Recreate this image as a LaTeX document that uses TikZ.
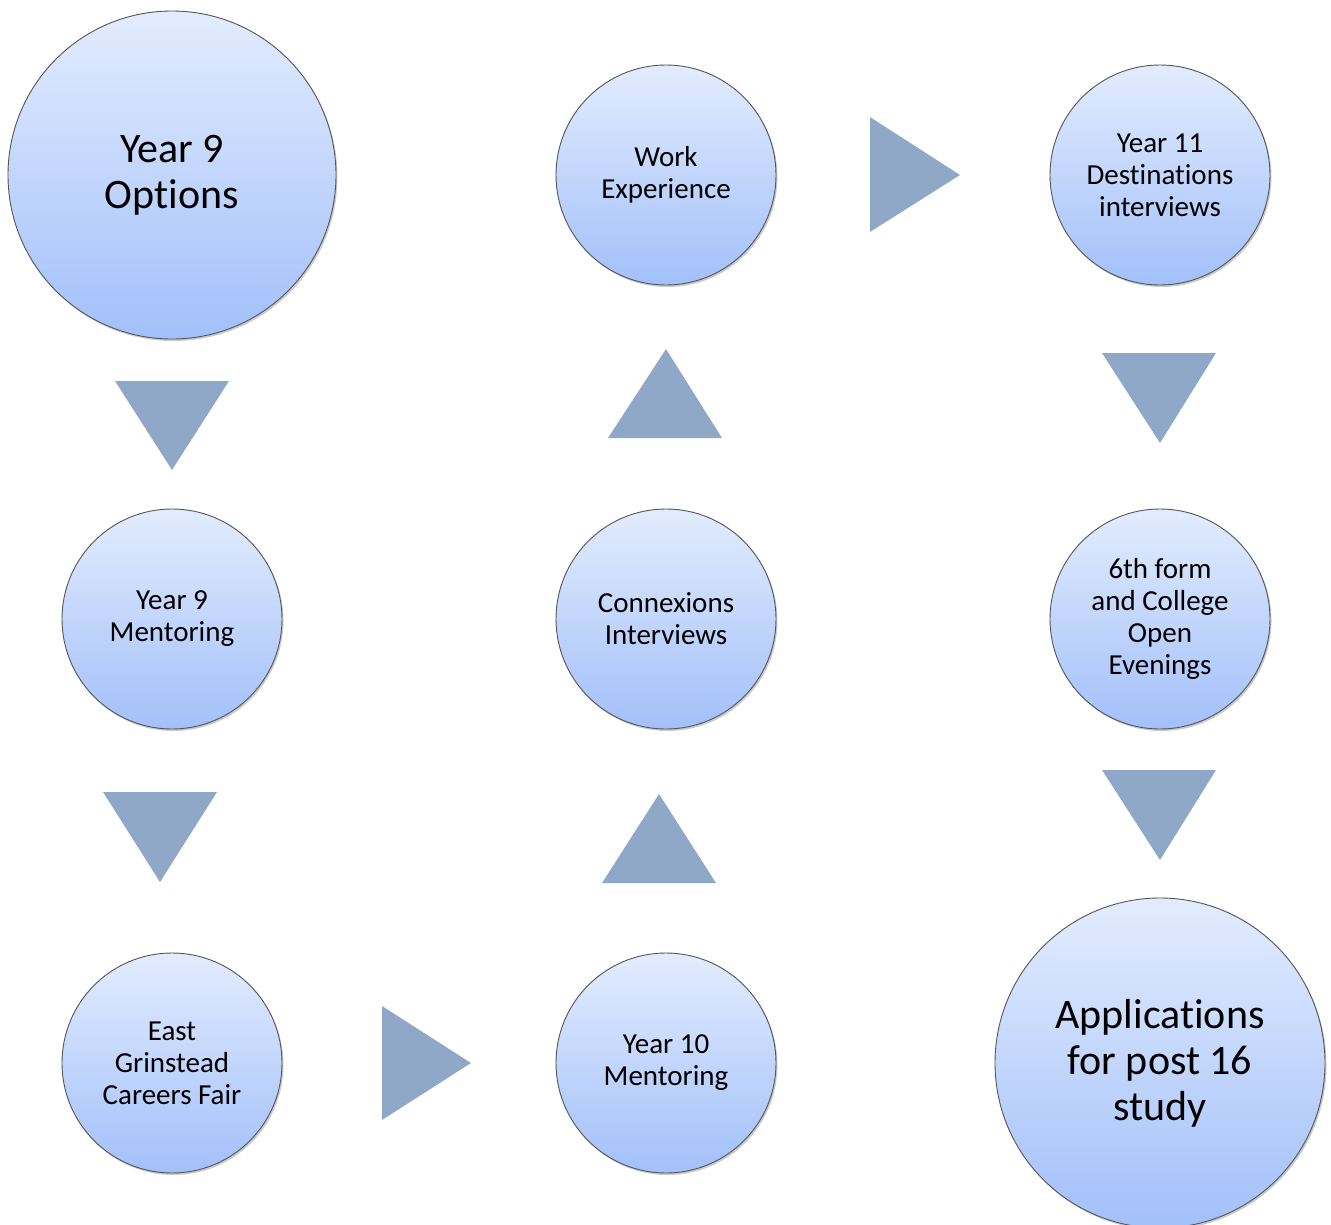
\documentclass[tikz,border=0pt]{standalone}
\usepackage{fontspec}
\setmainfont{Carlito}[Ligatures={NoCommon}]
\usetikzlibrary{shadows}
\definecolor{tri}{HTML}{8FA8C8}
\definecolor{ctop}{HTML}{E3ECFE}
\definecolor{cbot}{HTML}{A2C0FA}
\definecolor{cline}{HTML}{555555}
\tikzset{
  bubble/.style={circle, draw=cline, line width=0.9pt, top color=ctop, bottom color=cbot,
    minimum size=220pt, inner sep=0pt, align=center, font=\fontsize{29}{32}\selectfont,
    drop shadow={shadow xshift=1.5pt, shadow yshift=-2pt, opacity=0.35, fill=black!60}},
  bigbubble/.style={bubble, minimum size=328pt, font=\fontsize{42}{46}\selectfont},
  arrowtri/.style={fill=tri, draw=none}
}
\begin{document}
\begin{tikzpicture}[x=1pt,y=-1pt]
\useasboundingbox (0,0) rectangle (1331,1224);
\node[bigbubble] (opt) at (172,175) {Year 9\\Options};
\node[bubble] (work) at (666,175) {Work\\Experience};
\node[bubble] (y11) at (1160,175) {Year 11\\Destinations\\interviews};
\node[bubble] (ment9) at (172,619) {Year 9\\Mentoring};
\node[bubble] (conn) at (666,619) {Connexions\\Interviews};
\node[bubble] (sixth) at (1160,619) {6th form\\and College\\Open\\Evenings};
\node[bubble] (fair) at (172,1063) {East\\Grinstead\\Careers Fair};
\node[bubble] (ment10) at (666,1063) {Year 10\\Mentoring};
\node[bigbubble, minimum size=330pt] (apps) at (1160,1063) {Applications\\for post 16\\study};
% arrows
\fill[arrowtri] (870,117) -- (960,175) -- (870,232) -- cycle;
\fill[arrowtri] (115,381) -- (229,381) -- (172,470) -- cycle;
\fill[arrowtri] (608,438) -- (722,438) -- (666,349) -- cycle;
\fill[arrowtri] (1102,353) -- (1216,353) -- (1160,443) -- cycle;
\fill[arrowtri] (103,792) -- (217,792) -- (160,882) -- cycle;
\fill[arrowtri] (602,883) -- (716,883) -- (659,794) -- cycle;
\fill[arrowtri] (1102,770) -- (1216,770) -- (1160,860) -- cycle;
\fill[arrowtri] (382,1006) -- (471,1063) -- (382,1120) -- cycle;
\end{tikzpicture}
\end{document}
